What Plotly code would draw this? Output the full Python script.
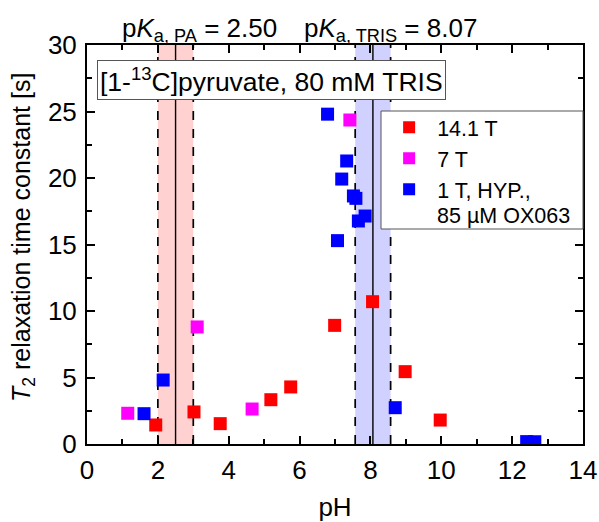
import plotly.graph_objects as go

# Data (pH, T2 [s])
ph_141 = [1.94, 3.02, 3.76, 5.19, 5.75, 6.99, 8.06, 8.98, 9.97]
t2_141 = [1.43, 2.41, 1.53, 3.33, 4.29, 8.92, 10.7, 5.44, 1.80]

ph_7 = [1.15, 3.11, 4.66, 7.42]
t2_7 = [2.31, 8.80, 2.63, 24.36]

ph_1 = [1.61, 2.15, 6.79, 7.33, 7.19, 7.52, 7.59, 7.85, 7.66, 7.07, 8.70, 12.41, 12.64]
t2_1 = [2.28, 4.81, 24.8, 21.28, 19.92, 18.65, 18.47, 17.14, 16.77, 15.29, 2.73, 0.18, 0.17]

pka_pa = 2.50
pka_tris = 8.07
band_half = 0.5

series_names = ["14.1 T", "7 T", "1 T, HYP.,"]
legend_cont = "85 µM OX063"
series_colors = ["#FF0000", "#FF00FF", "#0000FF"]

FONT = "Liberation Sans, Arial, sans-serif"

fig = go.Figure()

# shaded pKa bands
for pk, fill in [(pka_pa, "rgba(255,0,0,0.18)"), (pka_tris, "rgba(0,0,255,0.18)")]:
    fig.add_vrect(x0=pk - band_half, x1=pk + band_half, fillcolor=fill,
                  line_width=0, layer="below")
    for xv in (pk - band_half, pk + band_half):
        fig.add_shape(type="line", x0=xv, x1=xv, y0=0, y1=1, yref="paper",
                      line=dict(color="black", width=1.7, dash="dash"), layer="below")
    fig.add_shape(type="line", x0=pk, x1=pk, y0=0, y1=1, yref="paper",
                  line=dict(color="black", width=1.4), layer="below")

for xs, ys, name, col in zip([ph_141, ph_7, ph_1], [t2_141, t2_7, t2_1],
                             series_names, series_colors):
    fig.add_trace(go.Scatter(x=xs, y=ys, mode="markers", name=name,
                             marker=dict(symbol="square", size=13, color=col,
                                         line=dict(width=0))))

# legend frame (white box with grey border, covers band lines)
fig.add_shape(type="rect", xref="paper", yref="paper",
              x0=(381 - 87) / 496, x1=1.0, y0=(444 - 229) / 399, y1=(444 - 111) / 399,
              fillcolor="white", line=dict(color="#555555", width=1), layer="above")

fig.update_layout(
    width=599, height=522,
    margin=dict(l=87, r=16, t=45, b=78, autoexpand=False),
    paper_bgcolor="white", plot_bgcolor="white",
    font=dict(family=FONT, size=26, color="black"),
    showlegend=True,
    legend=dict(x=0.593, y=0.845, xanchor="left", yanchor="top",
                bgcolor="rgba(0,0,0,0)", borderwidth=0,
                font=dict(size=21.5), itemsizing="constant",
                itemwidth=46, tracegroupgap=0),
)

axis_common = dict(showline=True, linecolor="black", linewidth=2, mirror="allticks",
                   ticks="inside", tickcolor="black", tickwidth=2, ticklen=8,
                   showgrid=False, zeroline=False, automargin=False,
                   tickfont=dict(family=FONT, size=26))

fig.update_xaxes(range=[0, 14], tick0=0, dtick=2, ticklabelstandoff=2,
                 minor=dict(ticks="inside", dtick=1, ticklen=5, tickwidth=2, tickcolor="black"),
                 title=dict(text="pH", font=dict(size=26), standoff=18),
                 **axis_common)
fig.update_yaxes(range=[0, 30], tick0=0, dtick=5, ticklabelstandoff=3,
                 minor=dict(ticks="inside", dtick=2.5, ticklen=5, tickwidth=2, tickcolor="black"),
                 **axis_common)

# continuation line of the third legend entry
fig.add_annotation(x=(435 - 87) / 496, y=(444 - 216) / 399, xref="paper", yref="paper",
                   xanchor="left", yanchor="middle", showarrow=False,
                   text=legend_cont, font=dict(size=21.5))

# y-axis title placed precisely
fig.add_annotation(x=(23 - 87) / 496, y=(444 - 238) / 399, xref="paper", yref="paper",
                   xanchor="center", yanchor="middle", showarrow=False, textangle=-90,
                   text="<i>T</i><sub>2</sub> relaxation time constant [s]",
                   font=dict(size=25))

# pKa labels above the plot
fig.add_annotation(x=(199 - 87) / 496, y=1.0, xref="paper", yref="paper",
                   xanchor="center", yanchor="bottom", yshift=-3, showarrow=False,
                   text="p<i>K</i><sub>a, PA</sub> = 2.50", font=dict(size=26))
fig.add_annotation(x=(390 - 87) / 496, y=1.0, xref="paper", yref="paper",
                   xanchor="center", yanchor="bottom", yshift=-3, showarrow=False,
                   text="p<i>K</i><sub>a, TRIS</sub> = 8.07", font=dict(size=26))

# sample box
fig.add_annotation(x=(97 - 87) / 496, y=(444 - 60) / 399, xref="paper", yref="paper",
                   xanchor="left", yanchor="top", showarrow=False,
                   text="[1-<sup>13</sup>C]pyruvate, 80 mM TRIS", font=dict(size=26.5),
                   bgcolor="white", bordercolor="#555555", borderwidth=1, borderpad=2)

fig.write_html("out.html", config={"displayModeBar": False},
               post_script="document.body.style.margin='0';document.body.style.overflow='hidden';")
